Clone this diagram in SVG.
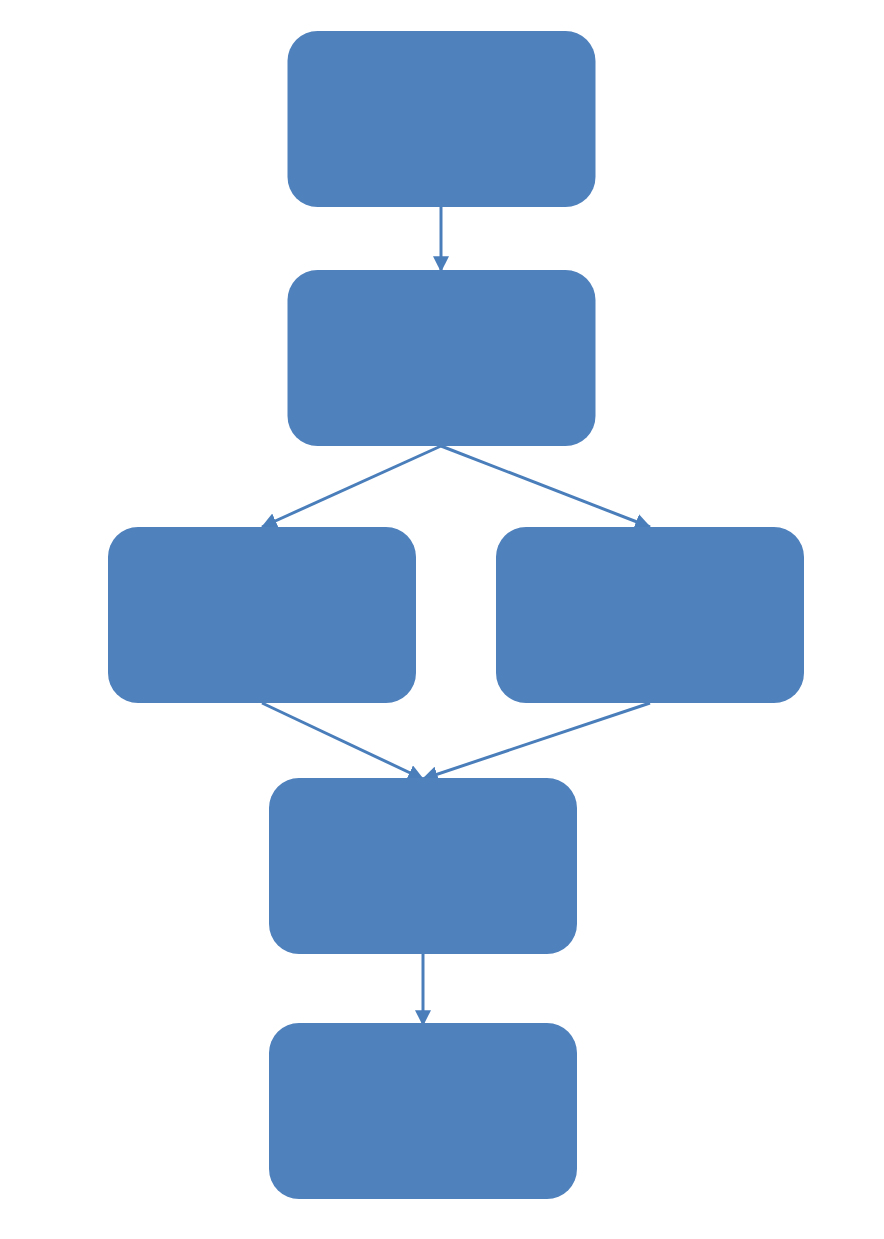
<svg xmlns="http://www.w3.org/2000/svg" width="884" height="1239" viewBox="0 0 884 1239">
<style>
.node{fill:#4F81BD;}
.conn{stroke:#4A7EBB;stroke-width:3;fill:none;}
</style>
<defs>
<marker id="arr" markerUnits="userSpaceOnUse" markerWidth="16" markerHeight="16" viewBox="0 0 14 14" refX="13" refY="7" orient="auto">
<path d="M0,0 L14,7 L0,14 Z" fill="#4A7EBB"/>
</marker>
</defs>
<rect width="884" height="1239" fill="#ffffff"/>
<g id="connectors">
<line class="conn" x1="441" y1="207" x2="441" y2="271" marker-end="url(#arr)"/>
<line class="conn" x1="441" y1="446" x2="262" y2="527" marker-end="url(#arr)"/>
<line class="conn" x1="441" y1="446" x2="650" y2="527" marker-end="url(#arr)"/>
<line class="conn" x1="262" y1="703" x2="423" y2="779" marker-end="url(#arr)"/>
<line class="conn" x1="650" y1="703" x2="423" y2="779" marker-end="url(#arr)"/>
<line class="conn" x1="423" y1="954" x2="423" y2="1025" marker-end="url(#arr)"/>
</g>
<g id="node1"><rect class="node" x="287.5" y="31" width="308" height="176" rx="30" ry="30"/></g>
<g id="node2"><rect class="node" x="287.5" y="270" width="308" height="176" rx="30" ry="30"/></g>
<g id="node3"><rect class="node" x="108" y="527" width="308" height="176" rx="30" ry="30"/></g>
<g id="node4"><rect class="node" x="496" y="527" width="308" height="176" rx="30" ry="30"/></g>
<g id="node5"><rect class="node" x="269" y="778" width="308" height="176" rx="30" ry="30"/></g>
<g id="node6"><rect class="node" x="269" y="1023" width="308" height="176" rx="30" ry="30"/></g>
</svg>
